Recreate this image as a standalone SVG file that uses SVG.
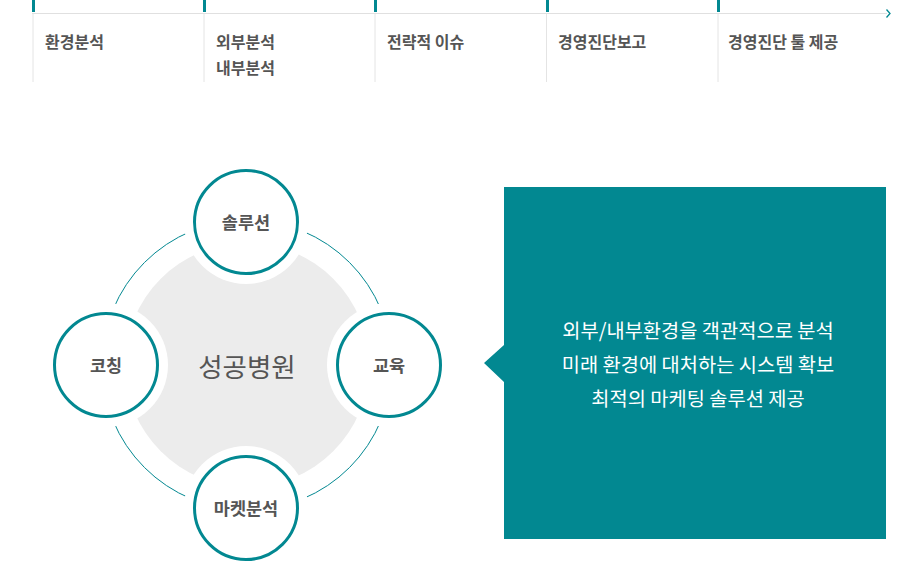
<svg xmlns="http://www.w3.org/2000/svg" width="923" height="563" viewBox="0 0 923 563">
<style>
.step{font-family:"Noto Sans CJK KR","Noto Sans",sans-serif;font-size:16px;font-weight:700;fill:#555}
.vl{stroke:#e4e4e4;stroke-width:1}
.tick{fill:#028891}
.node circle.ring{fill:#fff;stroke:#028891;stroke-width:3}
.lbl{font-family:"Noto Sans CJK KR","Noto Sans",sans-serif;font-size:17.5px;font-weight:700;fill:#555;text-anchor:middle}
.center{font-family:"Noto Sans CJK KR","Noto Sans",sans-serif;font-size:26.5px;font-weight:400;fill:#555;text-anchor:middle}
.desc{font-family:"Noto Sans CJK KR","Noto Sans",sans-serif;font-size:19.8px;font-weight:400;fill:#fff;text-anchor:middle}
</style>
<rect width="923" height="563" fill="#fff"/>
<g id="timeline">
  <line x1="32" y1="13.5" x2="887" y2="13.5" stroke="#e0e0e0" stroke-width="1"/>
  <path d="M886.5 9.5 L890 13.5 L886.5 17.5" fill="none" stroke="#028891" stroke-width="1.3"/>
  <g id="step1"><rect class="tick" x="32" y="0" width="3" height="12"/><line class="vl" x1="33" y1="14" x2="33" y2="82"/><text class="step" x="45" y="48">환경분석</text></g>
  <g id="step2"><rect class="tick" x="203" y="0" width="3" height="12"/><line class="vl" x1="204" y1="14" x2="204" y2="82"/><text class="step" x="216" y="48">외부분석</text><text class="step" x="216" y="74">내부분석</text></g>
  <g id="step3"><rect class="tick" x="374" y="0" width="3" height="12"/><line class="vl" x1="375" y1="14" x2="375" y2="82"/><text class="step" x="387" y="48">전략적 이슈</text></g>
  <g id="step4"><rect class="tick" x="546" y="0" width="3" height="12"/><line class="vl" x1="546.5" y1="14" x2="546.5" y2="82"/><text class="step" x="558" y="48">경영진단보고</text></g>
  <g id="step5"><rect class="tick" x="717" y="0" width="3" height="12"/><line class="vl" x1="718" y1="14" x2="718" y2="82"/><text class="step" x="728" y="48">경영진단 툴 제공</text></g>
</g>
<g id="core">
  <circle cx="247" cy="365" r="122" fill="#ececec"/>
  <text class="center" x="247" y="377">성공병원</text>
</g>
<g id="connectors">
  <circle cx="247" cy="365" r="145" fill="none" stroke="#028891" stroke-width="1"/>
  <circle cx="246" cy="222" r="62" fill="#fff"/>
  <circle cx="106" cy="365" r="62" fill="#fff"/>
  <circle cx="389" cy="365" r="62" fill="#fff"/>
  <circle cx="246" cy="508" r="62" fill="#fff"/>
</g>
<g id="node-solution" class="node"><circle class="ring" cx="246" cy="222" r="51.5"/><text class="lbl" x="246" y="229">솔루션</text></g>
<g id="node-coaching" class="node"><circle class="ring" cx="106" cy="365" r="51.5"/><text class="lbl" x="106" y="372">코칭</text></g>
<g id="node-education" class="node"><circle class="ring" cx="389" cy="365" r="51.5"/><text class="lbl" x="389" y="372">교육</text></g>
<g id="node-market" class="node"><circle class="ring" cx="246" cy="508" r="51.5"/><text class="lbl" x="246" y="515">마켓분석</text></g>
<g id="desc-box">
  <path d="M504 187 H886 V539 H504 V382 L484 363 L504 345 Z" fill="#028891"/>
  <text class="desc" x="698" y="338">외부/내부환경을 객관적으로 분석</text>
  <text class="desc" x="698" y="372">미래 환경에 대처하는 시스템 확보</text>
  <text class="desc" x="698" y="406">최적의 마케팅 솔루션 제공</text>
</g>
</svg>
